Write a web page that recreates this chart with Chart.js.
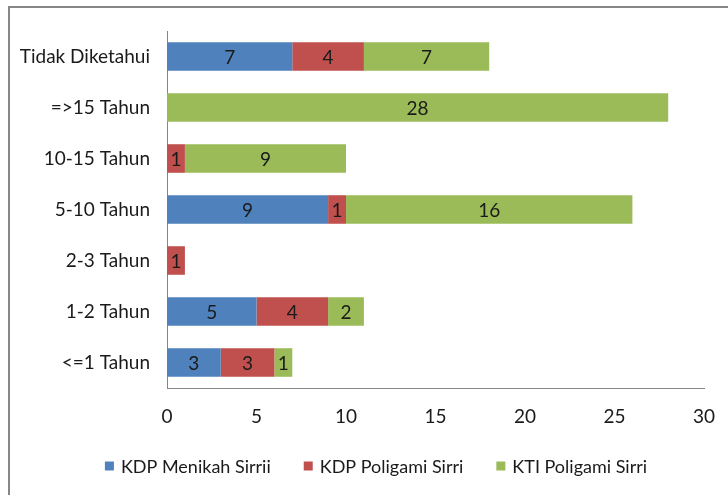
<!DOCTYPE html>
<html>
<head>
<meta charset="utf-8">
<script src="https://cdn.jsdelivr.net/npm/chart.js@4/dist/chart.umd.min.js"></script>
<style>
  html, body { margin: 0; padding: 0; background: #fff; }
  #wrap { position: relative; width: 728px; height: 495px; overflow: hidden; }
  #frame { position: absolute; left: 8px; top: 6px; width: 760px; height: 520px;
           border-top: 2px solid #878787; border-left: 2px solid #878787; box-sizing: border-box; }
  canvas { position: absolute; left: 0; top: 0; }
</style>
</head>
<body>
<div id="wrap">
  <div id="frame"></div>
  <canvas id="c" width="728" height="495"></canvas>
</div>
<script>
const categories = ["Tidak Diketahui", "=>15 Tahun", "10-15 Tahun", "5-10 Tahun", "2-3 Tahun", "1-2 Tahun", "<=1 Tahun"];
const seriesNames = ["KDP Menikah Sirrii", "KDP Poligami Sirri", "KTI Poligami Sirri"];
const kdpMenikah = [7, 0, 0, 9, 0, 5, 3];
const kdpPoligami = [4, 0, 1, 1, 1, 4, 3];
const ktiPoligami = [7, 28, 9, 16, 0, 2, 1];
const xTicks = [0, 5, 10, 15, 20, 25, 30];

const FONT = "Lato";
const colors = ["#4F81BD", "#C0504D", "#9BBB59"];

const labelPlugin = {
  id: "barLabels",
  afterDatasetsDraw(chart) {
    const ctx = chart.ctx;
    ctx.save();
    ctx.font = "19px " + FONT;
    ctx.fillStyle = "#1a1a1a";
    ctx.textAlign = "center";
    ctx.textBaseline = "middle";
    chart.data.datasets.forEach((ds, di) => {
      const meta = chart.getDatasetMeta(di);
      meta.data.forEach((el, i) => {
        const v = ds.data[i];
        if (!v) return;
        ctx.fillText(String(v), (el.x + el.base) / 2, el.y + 1);
      });
    });
    ctx.restore();
  }
};

// Legend drawn below the x axis, centred like the reference
const legendPlugin = {
  id: "bottomLegend",
  afterDraw(chart) {
    const ctx = chart.ctx;
    ctx.save();
    ctx.font = "18px " + FONT;
    ctx.textBaseline = "middle";
    ctx.textAlign = "left";
    const box = 9, gapText = 7, gapItem = 33, cy = 466, centre = 376;
    const items = chart.data.datasets.map(ds => ({ text: ds.label, color: ds.backgroundColor, w: ctx.measureText(ds.label).width }));
    const total = items.reduce((s, it) => s + box + gapText + it.w, 0) + gapItem * (items.length - 1);
    let x = centre - total / 2;
    items.forEach(it => {
      ctx.fillStyle = it.color;
      ctx.fillRect(x, cy - box / 2, box, box);
      ctx.fillStyle = "#1a1a1a";
      ctx.fillText(it.text, x + box + gapText, cy + 1);
      x += box + gapText + it.w + gapItem;
    });
    ctx.restore();
  }
};

new Chart(document.getElementById("c"), {
  type: "bar",
  data: {
    labels: categories,
    datasets: [
      { label: seriesNames[0], data: kdpMenikah, backgroundColor: colors[0] },
      { label: seriesNames[1], data: kdpPoligami, backgroundColor: colors[1] },
      { label: seriesNames[2], data: ktiPoligami, backgroundColor: colors[2] }
    ]
  },
  options: {
    indexAxis: "y",
    responsive: false,
    animation: false,
    devicePixelRatio: 1,
    layout: { padding: { left: 0, right: 24, top: 31, bottom: 49 } },
    datasets: { bar: { categoryPercentage: 1, barPercentage: 0.56, borderWidth: 0 } },
    scales: {
      x: {
        stacked: true, min: 0, max: 30,
        afterBuildTicks(scale) { scale.ticks = xTicks.map(v => ({ value: v })); },
        afterFit(scale) { scale.height = 58; scale.paddingLeft = 0; scale.paddingRight = 0; },
        grid: { display: false, drawTicks: false },
        border: { display: true, color: "#868686", width: 1 },
        ticks: { color: "#1a1a1a", font: { family: FONT, size: 19 }, padding: 17, maxRotation: 0 }
      },
      y: {
        stacked: true,
        afterFit(scale) { scale.width = 167; scale.paddingTop = 0; scale.paddingBottom = 0; },
        grid: { display: false, drawTicks: false },
        border: { display: true, color: "#868686", width: 1 },
        ticks: { color: "#1a1a1a", font: { family: FONT, size: 19 }, padding: 17 }
      }
    },
    plugins: {
      legend: { display: false },
      tooltip: { enabled: false }
    }
  },
  plugins: [labelPlugin, legendPlugin]
});
</script>
</body>
</html>
